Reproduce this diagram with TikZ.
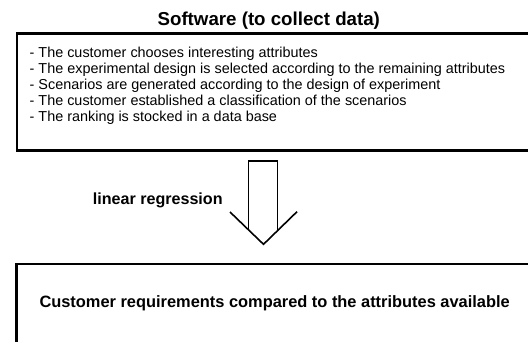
\documentclass[tikz,border=0pt]{standalone}
\usepackage{fontspec}
\setmainfont{Liberation Sans}
\begin{document}
\begin{tikzpicture}[x=1pt,y=-1pt,
  panel/.style={draw=black, line width=2.3pt, rectangle, inner sep=0pt, anchor=north west},
  txt/.style={inner sep=0pt, text=black},
  blockarrow/.style={draw=black, line width=1.6pt, line join=miter}]
\useasboundingbox (0,0) rectangle (528,342);
\clip (0,0) rectangle (528,342);
% title
\node[txt, anchor=base, font=\fontsize{18.7}{22}\selectfont\bfseries] (title) at (268.8,25.5) {Software (to collect data)};
% top panel
\node[panel, minimum width=540pt, minimum height=117pt] (top) at (15.8,32.5) {};
\node[txt, anchor=north west, align=left, font=\fontsize{14.4}{15.85}\selectfont] (steps) at (29.5,47.3)
  {- The customer chooses interesting attributes\\
   - The experimental design is selected according to the remaining attributes\\
   - Scenarios are generated according to the design of experiment\\
   - The customer established a classification of the scenarios\\
   - The ranking is stocked in a data base};
% bottom panel
\node[panel, minimum width=540pt, minimum height=120pt] (bottom) at (15.2,263) {};
\node[txt, anchor=base west, font=\fontsize{16.4}{19}\selectfont\bfseries] (result) at (39.3,307.5)
  {Customer requirements compared to the attributes available};
% arrow
\coordinate (sl) at (248.3,161);
\coordinate (sr) at (277.3,161);
\coordinate (wl) at (230,212);
\coordinate (tip) at (263.5,244.3);
\coordinate (wr) at (297,211.7);
\coordinate (jl) at (248.3,229.6);
\coordinate (jr) at (277.3,230.9);
\draw[blockarrow] (jl) -- (sl) -- (sr) -- (jr);
\draw[blockarrow] (wl) -- (tip) -- (wr);
\node[txt, anchor=base west, font=\fontsize{16.1}{19}\selectfont\bfseries] (lr) at (92.7,204.5) {linear regression};
\end{tikzpicture}
\end{document}
